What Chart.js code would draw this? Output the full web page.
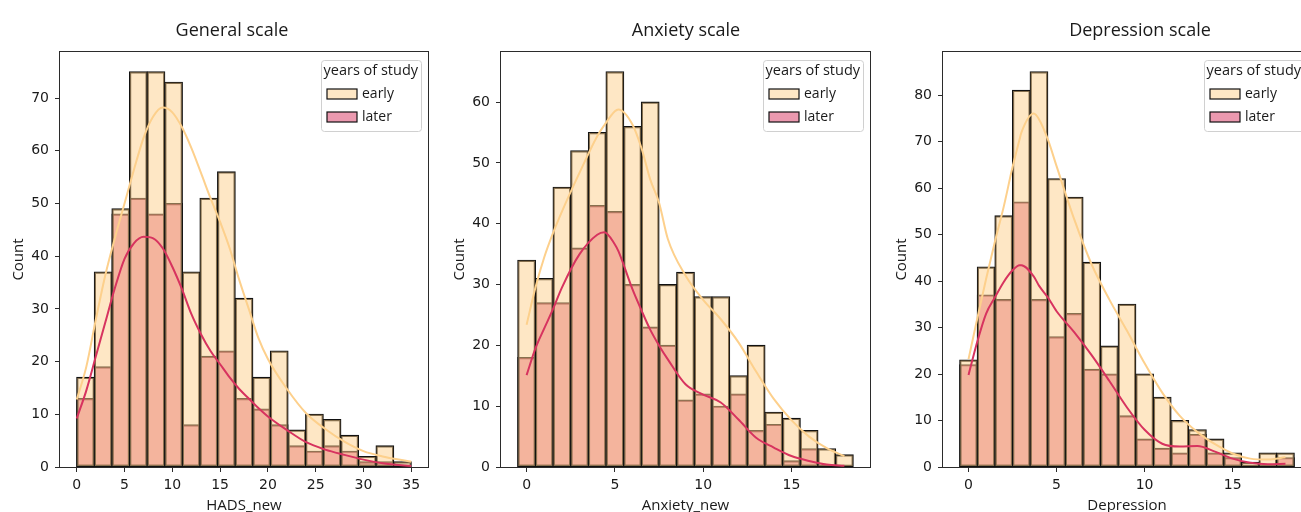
<!DOCTYPE html>
<html><head><meta charset="utf-8">
<script src="https://cdn.jsdelivr.net/npm/chart.js@4/dist/chart.umd.min.js"></script>
<style>
html,body{margin:0;padding:0;background:#fff;overflow:hidden;width:1301px;height:512px;}
#wrap{position:relative;width:1301px;height:512px;overflow:hidden;background:#fff;}
canvas{position:absolute;top:0;}
</style></head><body>
<div id="wrap">
<canvas id="c1" width="440" height="512" style="left:0px;width:440px;height:512px"></canvas>
<canvas id="c2" width="440" height="512" style="left:440px;width:440px;height:512px"></canvas>
<canvas id="c3" width="441" height="512" style="left:880px;width:441px;height:512px"></canvas>
</div>
<script>
// ---------------- data ----------------
const hueLevels = ['early', 'later'];
const legendTitle = 'years of study';

// General scale (HADS_new): 19 equal bins spanning 0..35
const generalTitle = 'General scale';
const generalXLabel = 'HADS_new';
const generalBinRange = [0, 35];
const generalEarly = [17, 37, 49, 75, 75, 73, 37, 51, 56, 32, 17, 22, 7, 10, 9, 6, 2, 4, 1];
const generalLater = [13, 19, 48, 51, 48, 50, 8, 21, 22, 13, 11, 8, 4, 3, 4, 3, 1, 1, 0];
const generalKdeX = [0, 1, 2, 3, 4, 5, 6, 7, 8, 9, 10, 11, 12, 13, 14, 15, 16, 17, 18, 19, 20, 22, 24, 26, 28, 30, 32, 35];
const generalKdeEarly = [12.8, 19, 28, 36.5, 43.5, 50, 56.5, 62.5, 66.5, 68.2, 67.3, 64.5, 60.5, 55.8, 51, 46.5, 41.5, 35.5, 30, 24.5, 20.5, 14.8, 10.2, 7.2, 4.8, 3.0, 2.0, 1.0];
const generalKdeLater = [9.2, 14.5, 21, 27.5, 34, 39.5, 42.5, 43.7, 43.4, 41.5, 38, 33.8, 29, 25.2, 22, 19.5, 17, 14.8, 13, 11.2, 9.6, 7, 4.7, 3.3, 2.3, 1.4, 0.7, 0.2];
const generalXTicks = [0, 5, 10, 15, 20, 25, 30, 35];
const generalYTicks = [0, 10, 20, 30, 40, 50, 60, 70];
const generalXLimits = [-1.75, 36.75];
const generalYMax = 78.75;

// Anxiety scale (Anxiety_new): one bin per score
const anxietyTitle = 'Anxiety scale';
const anxietyXLabel = 'Anxiety_new';
const anxietyScores = [0, 1, 2, 3, 4, 5, 6, 7, 8, 9, 10, 11, 12, 13, 14, 15, 16, 17, 18];
const anxietyEarly = [34, 31, 46, 52, 55, 65, 56, 60, 30, 32, 28, 28, 15, 20, 9, 8, 6, 3, 2];
const anxietyLater = [18, 27, 27, 36, 43, 42, 30, 23, 20, 11, 12, 10, 12, 6, 7, 1, 3, 0, 0];
const anxietyKdeX = [0, 0.5, 1, 1.5, 2, 3, 4, 4.4, 5, 5.2, 6, 6.5, 7, 7.5, 8, 9, 10, 11, 12, 13, 14, 15, 16, 17, 18];
const anxietyKdeEarly = [23.4, 29.5, 34.5, 38.5, 42, 48.4, 54.4, 56.2, 58.5, 58.8, 56.3, 52.5, 47.3, 43.5, 37.5, 31.5, 27.5, 24.3, 20.5, 15.7, 11.2, 7.7, 5, 3.1, 1.8];
const anxietyKdeLater = [15.1, 19.5, 22.8, 26, 29.5, 35, 38.2, 38.6, 36.6, 35.5, 29.2, 25.8, 22.6, 20, 17.7, 13.6, 11.9, 10.6, 7.8, 4.8, 3.2, 1.8, 1.0, 0.4, 0.2];
const anxietyXTicks = [0, 5, 10, 15];
const anxietyYTicks = [0, 10, 20, 30, 40, 50, 60];
const anxietyXLimits = [-1.45, 19.45];
const anxietyYMax = 68.25;

// Depression scale
const depressionTitle = 'Depression scale';
const depressionXLabel = 'Depression';
const depressionScores = [0, 1, 2, 3, 4, 5, 6, 7, 8, 9, 10, 11, 12, 13, 14, 15, 16, 17, 18];
const depressionEarly = [23, 43, 54, 81, 85, 62, 58, 44, 26, 35, 20, 15, 10, 8, 6, 3, 1, 3, 3];
const depressionLater = [22, 37, 36, 57, 36, 28, 33, 21, 20, 11, 6, 4, 3, 7, 3, 2, 0, 0, 2];
const depressionKdeX = [0, 0.5, 1, 1.5, 2, 2.5, 2.9, 3, 3.7, 4, 4.5, 5, 6, 7, 8, 9, 10, 11, 12, 13, 14, 15, 16, 17, 18];
const depressionKdeEarly = [23.2, 32, 40.5, 48.5, 56, 64.5, 70.5, 71.9, 76, 74.8, 70.5, 64.7, 53.3, 43.5, 36, 29.3, 22.3, 16, 11, 7.5, 4.9, 2.9, 1.8, 1.6, 2.1];
const depressionKdeLater = [19.8, 27, 33, 36.5, 39.8, 42.3, 43.4, 43.4, 41, 39, 36.5, 33.5, 29, 24, 18.5, 12.8, 8, 5, 4.4, 4.5, 3.3, 1.8, 0.9, 0.6, 0.7];
const depressionXTicks = [0, 5, 10, 15];
const depressionYTicks = [0, 10, 20, 30, 40, 50, 60, 70, 80];
const depressionXLimits = [-1.45, 19.45];
const depressionYMax = 89.25;

// ---------------- style ----------------
const EARLY = '#fdd08c';
const LATER = '#d7335f';
const EARLY_A = 'rgba(253,208,140,0.5)';
const LATER_A = 'rgba(215,51,95,0.5)';
const EDGE = '#111111';
const TXT = '#1a1a1a';
const SANS = '"Open Sans", "DejaVu Sans", sans-serif';

function binCenters(range, n) {
  const w = (range[1] - range[0]) / n;
  const out = [];
  for (let i = 0; i < n; i++) out.push(range[0] + w * (i + 0.5));
  return out;
}
function pts(xs, ys) { return xs.map((x, i) => ({ x: x, y: ys[i] })); }

const panelText = {
  id: 'panelText',
  afterDatasetsDraw(chart, args, o) {
    const ctx = chart.ctx, a = chart.chartArea;
    ctx.save();
    // frame (spines)
    ctx.strokeStyle = '#2b2b2b';
    ctx.lineWidth = 1;
    ctx.strokeRect(Math.round(a.left) - 0.5, Math.round(a.top) - 0.5, Math.round(a.right - a.left) + 1, Math.round(a.bottom - a.top) + 1);
    // legend
    const bw = 100, bh = 71;
    const bx = a.right - 7 - bw, by = a.top + 8;
    ctx.beginPath();
    ctx.roundRect(bx + 0.5, by + 0.5, bw, bh, 3);
    ctx.fillStyle = 'rgba(255,255,255,0.8)';
    ctx.fill();
    ctx.strokeStyle = '#d0d0d0';
    ctx.lineWidth = 1;
    ctx.stroke();
    ctx.fillStyle = TXT;
    ctx.textAlign = 'left';
    ctx.textBaseline = 'alphabetic';
    ctx.font = '14.5px ' + SANS;
    ctx.fillText(legendTitle, bx + 2.5, by + 15);
    const sw = [[EARLY_A, by + 29], [LATER_A, by + 52]];
    ctx.font = '14px ' + SANS;
    sw.forEach((s, i) => {
      ctx.fillStyle = '#fff';
      ctx.fillRect(bx + 6, s[1], 30, 10);
      ctx.fillStyle = s[0];
      ctx.fillRect(bx + 6, s[1], 30, 10);
      ctx.strokeStyle = EDGE;
      ctx.lineWidth = 1.2;
      ctx.strokeRect(bx + 6, s[1], 30, 10);
      ctx.fillStyle = TXT;
      ctx.fillText(hueLevels[i], bx + 41, s[1] + 8.5);
    });
    // title
    ctx.textAlign = 'center';
    ctx.font = '18px ' + SANS;
    ctx.fillText(o.title, o.titleX, 36);
    // x label
    ctx.font = '15px ' + SANS;
    ctx.fillText(o.xLabel, (a.left + a.right) / 2, 510);
    // y label
    ctx.translate(a.left - 37, (a.top + a.bottom) / 2);
    ctx.rotate(-Math.PI / 2);
    ctx.fillText('Count', 0, 0);
    ctx.restore();
  }
};

function makePanel(id, p) {
  const tickFont = { family: '"DejaVu Sans", sans-serif', size: 14 };
  const grid = { display: true, drawOnChartArea: false, drawTicks: true, tickLength: 5, color: '#2b2b2b', lineWidth: 1, offset: false };
  const barCommon = { borderColor: EDGE, borderWidth: 1.1, inflateAmount: 0.55, borderSkipped: false, grouped: false, barPercentage: 1, categoryPercentage: 1 };
  return new Chart(document.getElementById(id), {
    type: 'bar',
    data: {
      datasets: [
        Object.assign({ type: 'line', label: 'kde later', data: pts(p.kdeX, p.kdeLater), borderColor: LATER, borderWidth: 2, pointRadius: 0, cubicInterpolationMode: 'monotone', fill: false, order: -1 }),
        Object.assign({ type: 'line', label: 'kde early', data: pts(p.kdeX, p.kdeEarly), borderColor: EARLY, borderWidth: 2, pointRadius: 0, cubicInterpolationMode: 'monotone', fill: false, order: 0 }),
        Object.assign({ label: hueLevels[0], data: pts(p.centers, p.early), backgroundColor: EARLY_A, order: 1 }, barCommon),
        Object.assign({ label: hueLevels[1], data: pts(p.centers, p.later), backgroundColor: LATER_A, order: 2 }, barCommon)
      ]
    },
    options: {
      responsive: false,
      devicePixelRatio: 1,
      animation: false,
      events: [],
      layout: { padding: { top: 52, bottom: 0, left: 0, right: p.padRight } },
      plugins: {
        legend: { display: false },
        tooltip: { enabled: false },
        title: { display: false },
        panelText: { title: p.title, titleX: p.titleX, xLabel: p.xLabel }
      },
      scales: {
        x: {
          type: 'linear', min: p.xLim[0], max: p.xLim[1], offset: false,
          afterBuildTicks: s => { s.ticks = p.xTicks.map(v => ({ value: v })); },
          afterFit: s => { s.height = 45; },
          grid: grid, border: { display: false },
          ticks: { font: tickFont, color: TXT, padding: 5, maxRotation: 0, autoSkip: false, callback: v => String(v) }
        },
        y: {
          type: 'linear', min: 0, max: p.yMax,
          afterBuildTicks: s => { s.ticks = p.yTicks.map(v => ({ value: v })); },
          afterFit: s => { s.width = p.yWidth; },
          grid: grid, border: { display: false },
          ticks: { font: tickFont, color: TXT, padding: 6, autoSkip: false, callback: v => String(v) }
        }
      }
    },
    plugins: [panelText]
  });
}

function drawAll() {
  makePanel('c1', {
    title: generalTitle, titleX: 232, xLabel: generalXLabel,
    centers: binCenters(generalBinRange, generalEarly.length), early: generalEarly, later: generalLater,
    kdeX: generalKdeX, kdeEarly: generalKdeEarly, kdeLater: generalKdeLater,
    xTicks: generalXTicks, yTicks: generalYTicks, xLim: generalXLimits, yMax: generalYMax,
    yWidth: 60, padRight: 12
  });
  makePanel('c2', {
    title: anxietyTitle, titleX: 246, xLabel: anxietyXLabel,
    centers: anxietyScores, early: anxietyEarly, later: anxietyLater,
    kdeX: anxietyKdeX, kdeEarly: anxietyKdeEarly, kdeLater: anxietyKdeLater,
    xTicks: anxietyXTicks, yTicks: anxietyYTicks, xLim: anxietyXLimits, yMax: anxietyYMax,
    yWidth: 61, padRight: 10
  });
  makePanel('c3', {
    title: depressionTitle, titleX: 260, xLabel: depressionXLabel,
    centers: depressionScores, early: depressionEarly, later: depressionLater,
    kdeX: depressionKdeX, kdeEarly: depressionKdeEarly, kdeLater: depressionKdeLater,
    xTicks: depressionXTicks, yTicks: depressionYTicks, xLim: depressionXLimits, yMax: depressionYMax,
    yWidth: 63, padRight: 10
  });
}

const fontLoads = [
  document.fonts.load('18px "Open Sans"'),
  document.fonts.load('14px "DejaVu Sans"')
];
Promise.all(fontLoads).catch(() => {}).then(drawAll);
</script>
</body></html>
